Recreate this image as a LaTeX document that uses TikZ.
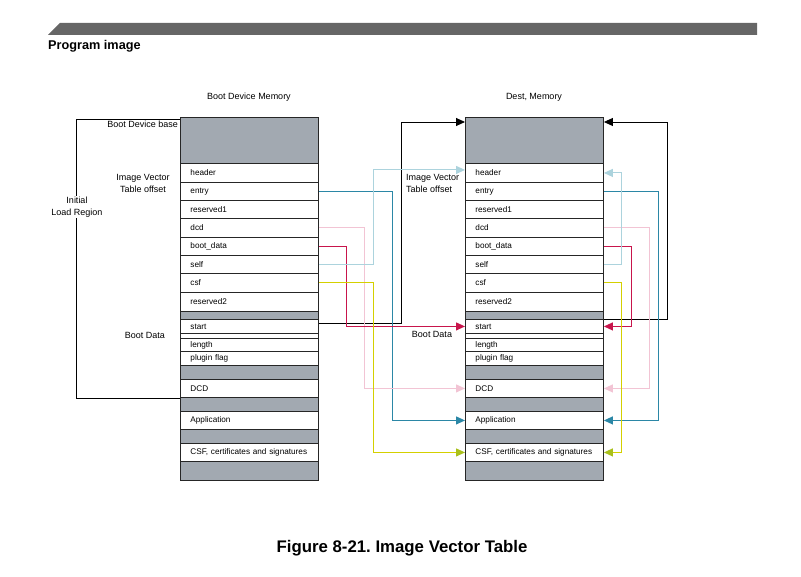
\documentclass[tikz,border=0pt]{standalone}
\usepackage{fontspec}
\setmainfont{Liberation Sans}
\usetikzlibrary{arrows.meta,calc}
\definecolor{memgray}{HTML}{A2A9B1}
\definecolor{bargray}{HTML}{666666}
\definecolor{cteal}{HTML}{2B87A6}
\definecolor{cpink}{HTML}{F2C4D4}
\definecolor{ccrimson}{HTML}{C8154C}
\definecolor{clblue}{HTML}{ACD3DD}
\definecolor{cyellow}{HTML}{D4D000}
\definecolor{cygarrow}{HTML}{A9C01C}
\frenchspacing
\begin{document}
\begin{tikzpicture}[x=1pt,y=-1pt,
  lbl/.style={font=\fontsize{9}{12}\selectfont, inner sep=0pt},
  memrow/.style={draw=black!85, line width=0.9pt, anchor=north west,
    minimum width=138pt, text width=118pt, inner xsep=10pt, inner ysep=0pt,
    align=left, font=\fontsize{8.2}{9}\selectfont},
  conn/.style={line width=1.1pt, -{Triangle[length=9pt,width=8pt]}},
  blk/.style={line width=0.9pt, draw=black},
]
\useasboundingbox (0,0) rectangle (801,577);
% header bar
\fill[bargray] (48,35) -- (60,23) -- (757,23) -- (757,35) -- cycle;
\node[anchor=west, inner sep=0pt, font=\fontsize{12.7}{14}\selectfont\bfseries] (title) at (48,46) {Program image};
% memory columns
\foreach \side/\x in {L/180, R/465}{
  \foreach \n/\t/\b/\f/\s in {
    top/117/163/memgray/{},
    header/163/182/white/header,
    entry/182/200/white/entry,
    reservedA/200/218/white/reserved1,
    dcd/218/237/white/dcd,
    bootdata/237/255/white/{boot\_data},
    self/255/273/white/self,
    csf/273/292/white/csf,
    reservedB/292/311/white/reserved2,
    gA/311/319/memgray/{},
    start/319/333/white/start,
    gap/333/338/white/{},
    length/338/351/white/length,
    plugin/351/365/white/{plugin flag},
    gB/365/379/memgray/{},
    DCD/379/397/white/DCD,
    gC/397/411/memgray/{},
    app/411/429/white/Application,
    gD/429/443/memgray/{},
    CSF/443/461/white/{CSF, certificates and signatures},
    gE/461/480/memgray/{}}{
    \pgfmathsetmacro{\hh}{\b-\t}
    \node[memrow, fill=\f, minimum height=\hh pt] (\side-\n) at (\x,\t) {\s};
  }
}
% column titles
\node[lbl] (ltitle) at (249,97) {Boot Device Memory};
\node[lbl] (rtitle) at (534,97) {Dest, Memory};
% left labels
\node[lbl, anchor=east] (bdbase) at (178,124) {Boot Device base};
\node[lbl, align=center] (livt) at (143,183) {Image Vector\\Table offset};
\node[lbl] (lbootdata) at (145,335) {Boot Data};
% initial load region bracket
\coordinate (brk) at (76,119);
\draw[blk] ([yshift=-2pt]L-top.north west) -- (brk) |- ([yshift=-1pt]L-DCD.south west);
\node[lbl, align=center, fill=white, inner sep=1pt] (ilr) at (77,207) {Initial\\Load Region};
% right labels
\node[lbl, align=left, anchor=west] (rivt) at (406,183) {Image Vector\\Table offset};
\node[lbl] (rbootdata) at (432,334) {Boot Data};
% black connectors
\draw[blk, -{Triangle[length=9pt,width=8pt]}] ([yshift=3pt]L-start.east) -- ++(83,0) |- ([yshift=-5pt]R-top.north west);
\draw[blk, -{Triangle[length=9pt,width=8pt]}] (R-start.north east) -- ++(64,0) |- ([yshift=-5pt]R-top.north east);
% left side connectors
\draw[conn, cteal] (L-entry.east) -- ++(74,0) |- (R-app.west);
\draw[conn, cpink] (L-dcd.east) -- ++(46,0) |- (R-DCD.west);
\draw[conn, ccrimson] (L-bootdata.east) -- ++(28,0) |- (R-start.west);
\draw[conn, clblue] (L-self.east) -- ++(55,0) |- ([yshift=3pt]R-header.west);
\draw[conn, cyellow, -{Triangle[length=9pt,width=8pt,color=cygarrow]}] (L-csf.east) -- ++(55,0) |- (R-CSF.west);
% right side connectors
\draw[conn, cteal] (R-entry.east) -- ++(55,0) |- (R-app.east);
\draw[conn, cpink] (R-dcd.east) -- ++(46,0) |- (R-DCD.east);
\draw[conn, ccrimson] (R-bootdata.east) -- ++(28,0) |- (R-start.east);
\draw[conn, clblue] (R-self.east) -- ++(18,0) |- (R-header.east);
\draw[conn, cyellow, -{Triangle[length=9pt,width=8pt,color=cygarrow]}] (R-csf.east) -- ++(18,0) |- (R-CSF.east);
% caption
\node[inner sep=0pt, font=\fontsize{16.8}{18}\selectfont\bfseries] (caption) at (402,548) {Figure 8-21. Image Vector Table};
\end{tikzpicture}
\end{document}
